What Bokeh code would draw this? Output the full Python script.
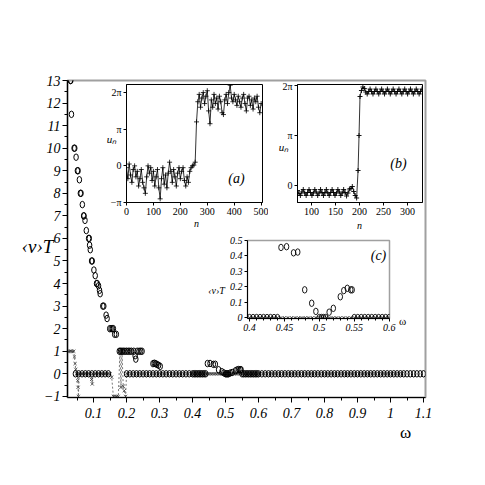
from bokeh.plotting import figure
from bokeh.models import Range1d, FixedTicker, SingleIntervalTicker, Label
from bokeh.embed import file_html
from bokeh.resources import INLINE

SERIF = "Liberation Serif"

# ---------------- main plot data: <v>T versus omega ----------------
# decaying branch of circles
omega_hi = [0.030, 0.031, 0.033, 0.041, 0.043, 0.047, 0.051, 0.053, 0.057, 0.060,
            0.062, 0.066, 0.070, 0.071, 0.074, 0.078, 0.085, 0.087, 0.088, 0.090,
            0.094, 0.096, 0.101, 0.105, 0.109, 0.111, 0.115, 0.118, 0.120, 0.128,
            0.131, 0.138, 0.141, 0.149, 0.153, 0.157, 0.160, 0.164, 0.169, 0.178,
            0.182, 0.186, 0.190, 0.195, 0.200, 0.205, 0.210, 0.215, 0.222, 0.226,
            0.228, 0.232, 0.238, 0.243, 0.247, 0.280, 0.284, 0.288, 0.292, 0.297,
            0.302]
vt_hi = [13.0, 13.0, 11.5, 10.0, 10.0, 9.6, 9.0, 9.0, 8.6, 8.0,
         8.0, 7.5, 7.0, 7.0, 6.8, 6.35, 6.0, 6.0, 5.7, 5.5,
         5.0, 5.0, 4.6, 4.35, 4.0, 4.0, 3.9, 3.7, 3.55, 3.0,
         3.0, 2.6, 2.45, 2.0, 2.0, 2.0, 2.0, 1.75, 1.75, 1.0,
         1.0, 1.0, 1.0, 1.0, 1.0, 1.0, 1.0, 1.0, 1.0, 0.8,
         0.65, 1.0, 1.0, 1.0, 1.0, 0.45, 0.47, 0.45, 0.42, 0.38,
         0.33]

# resonance bump (also shown enlarged in inset (c))
omega_c = [0.445, 0.453, 0.463, 0.469, 0.479, 0.489, 0.495, 0.514, 0.520, 0.530,
           0.535, 0.540, 0.545, 0.547]
vt_c = [0.455, 0.46, 0.42, 0.425, 0.18, 0.093, 0.04, 0.035, 0.06, 0.135,
        0.175, 0.19, 0.18, 0.18]

# circles lying on <v>T = 0
omega_zero = [0.045, 0.055, 0.065, 0.075, 0.085, 0.095, 0.105, 0.115, 0.125, 0.135, 0.145,
              0.20, 0.21, 0.22, 0.23, 0.24, 0.25, 0.26, 0.27, 0.28, 0.29,
              0.30, 0.31, 0.32, 0.33, 0.34, 0.35, 0.36, 0.37, 0.38, 0.39,
              0.400, 0.405, 0.410, 0.415, 0.420, 0.425, 0.430, 0.435, 0.440,
              0.500, 0.503, 0.506, 0.509,
              0.550, 0.555, 0.560, 0.565, 0.570, 0.575, 0.580, 0.585, 0.590, 0.595, 0.600,
              0.61, 0.62, 0.63, 0.64, 0.65, 0.66, 0.67, 0.68, 0.69, 0.70,
              0.71, 0.72, 0.73, 0.74, 0.75, 0.76, 0.77, 0.78, 0.79, 0.80,
              0.81, 0.82, 0.83, 0.84, 0.85, 0.86, 0.87, 0.88, 0.89, 0.90,
              0.91, 0.92, 0.93, 0.94, 0.95, 0.96, 0.97, 0.98, 0.99, 1.00,
              1.01, 1.02, 1.03, 1.04, 1.05, 1.06, 1.07, 1.08, 1.09, 1.10]

# crosses (second series, joined by a dashed line)
omega_x = [0.024, 0.028, 0.032, 0.036, 0.040, 0.042, 0.044, 0.046, 0.048, 0.050,
           0.052, 0.053, 0.054, 0.056, 0.060, 0.065, 0.070, 0.075, 0.080, 0.085,
           0.090, 0.094, 0.096, 0.098, 0.105, 0.110, 0.115, 0.120, 0.125, 0.130,
           0.135, 0.140, 0.145, 0.150, 0.155, 0.160, 0.165, 0.170, 0.175, 0.180,
           0.183, 0.186, 0.190, 0.193, 0.197, 0.200,
           0.205, 0.215, 0.225, 0.235, 0.245, 0.255, 0.265, 0.275, 0.285, 0.295,
           0.305, 0.315, 0.325, 0.335, 0.345, 0.355, 0.365, 0.375, 0.385, 0.395,
           0.400, 0.405, 0.410, 0.415, 0.420, 0.425, 0.430, 0.435, 0.440, 0.445,
           0.450, 0.455, 0.460, 0.465, 0.470, 0.475, 0.480, 0.485, 0.490, 0.495,
           0.500, 0.505, 0.510, 0.515, 0.520, 0.525, 0.530, 0.535, 0.540, 0.545,
           0.550, 0.555, 0.560, 0.565, 0.570, 0.575, 0.580, 0.585, 0.590, 0.595, 0.600,
           0.605, 0.615, 0.625, 0.635, 0.645, 0.655, 0.665, 0.675, 0.685, 0.695,
           0.705, 0.715, 0.725, 0.735, 0.745, 0.755, 0.765, 0.775, 0.785, 0.795,
           0.805, 0.815, 0.825, 0.835, 0.845, 0.855, 0.865, 0.875, 0.885, 0.895,
           0.905, 0.915, 0.925, 0.935, 0.945, 0.955, 0.965, 0.975, 0.985, 0.995,
           1.005, 1.015, 1.025, 1.035, 1.045, 1.055, 1.065, 1.075, 1.085, 1.095]
vt_x = [1, 1, 1, 1, 1, 0.75, 0.45, 0.2, 0, 0,
        -0.3, -0.6, -1, 0, 0, 0, 0, 0, 0, 0,
        0, -0.25, -0.45, 0, 0, 0, 0, 0, 0, 0,
        0, 0, 0, 0, -0.15, -1, -1, -1, -1, 1,
        -0.6, 1, -0.55, -0.75, -1, 0] + [0] * 105

# ---------------- inset (a): u_n (in units of pi) versus n ----------------
n_a = [0, 5, 10, 15, 20, 25, 30, 35, 40, 45, 50, 55, 60, 65, 70, 75, 80, 85, 90, 95,
       100, 105, 110, 115, 120, 125, 130, 135, 140, 145, 150, 155, 160, 165, 170, 175,
       180, 185, 190, 195, 200, 205, 210, 215, 220, 225, 230, 235, 240, 245, 250, 255,
       260, 265, 270, 275, 280, 285, 290, 295, 300, 305, 310, 315, 320, 325, 330, 335,
       340, 345, 350, 355, 360, 365, 370, 375, 380, 385, 390, 395, 400, 405, 410, 415,
       420, 425, 430, 435, 440, 445, 450, 455, 460, 465, 470, 475, 480, 485, 490, 495, 500]
u_a = [-0.05, -0.35, 0.05, -0.25, -0.45, -0.1, 0.0, -0.3, -0.15, -0.55, -0.35, -0.1,
       -0.45, -0.6, -0.75, -0.3, 0.0, -0.2, -0.05, -0.4, -0.15, -0.55, -0.3, -0.1,
       -0.6, -0.9, -0.35, -0.05, -0.5, -0.25, -0.6, -0.2, 0.1, -0.15, -0.45, -0.1,
       -0.3, -0.55, -0.2, -0.05, -0.35, -0.15, -0.05, -0.4, -0.55, -0.3, -0.45, -0.15,
       -0.05, 0.0, 0.02, 0.1, 1.2, 1.75, 1.95, 1.6, 1.85, 2.0, 1.7, 1.9, 2.05, 1.5,
       1.15, 1.8, 1.6, 1.95, 1.7, 1.85, 1.55, 1.9, 1.75, 1.45, 1.4, 1.8, 1.95, 1.7,
       2.0, 2.2, 1.85, 1.75, 1.95, 1.8, 1.65, 1.9, 1.75, 1.6, 1.85, 1.95, 1.7, 1.5,
       1.85, 1.9, 1.65, 1.8, 1.55, 1.85, 1.75, 1.9, 1.6, 1.45, 1.7]

# ---------------- inset (b): u_n (in units of pi) versus n ----------------
n_b = [71, 74, 77, 80, 83, 86, 89, 92, 95, 98, 101, 104, 107, 110, 113, 116, 119, 122,
       125, 128, 131, 134, 137, 140, 143, 146, 149, 152, 155, 158, 161, 164, 167, 170,
       173, 176, 179, 182, 185, 188, 191, 194, 197, 199, 201,
       204, 207, 210, 213, 216, 219, 222, 225, 228, 231, 234, 237, 240, 243, 246, 249,
       252, 255, 258, 261, 264, 267, 270, 273, 276, 279, 282, 285, 288, 291, 294, 297,
       300, 303, 306, 309, 312, 315, 318, 321, 324, 327, 330]
u_b = [-0.10, -0.16, -0.20, -0.13, -0.08, -0.15, -0.20, -0.14, -0.08, -0.14, -0.20,
       -0.15, -0.08, -0.13, -0.20, -0.15, -0.08, -0.14, -0.20, -0.14, -0.08, -0.15,
       -0.20, -0.14, -0.08, -0.14, -0.20, -0.15, -0.08, -0.13, -0.20, -0.15, -0.08,
       -0.14, -0.21, -0.15, -0.07, -0.06, -0.02, -0.12, -0.20, -0.25, 0.3, 1.0, 1.78,
       1.90, 1.97, 1.94, 1.87, 1.83, 1.88, 1.93, 1.88, 1.83, 1.88, 1.93, 1.88, 1.83,
       1.88, 1.93, 1.88, 1.83, 1.88, 1.93, 1.88, 1.83, 1.88, 1.93, 1.88, 1.83, 1.88,
       1.93, 1.88, 1.83, 1.88, 1.93, 1.88, 1.83, 1.88, 1.93, 1.88, 1.83, 1.88, 1.93,
       1.88, 1.83, 1.88, 1.93]

pi_ticks = [-1, 0, 1, 2]
pi_labels = {-1: "\u2212\u03c0", 0: "0", 1: "\u03c0", 2: "2\u03c0"}
a_xticks = [0, 100, 200, 300, 400, 500]
b_xticks = [100, 150, 200, 250, 300]
c_xticks = [0.40, 0.45, 0.50, 0.55, 0.60]
c_xminor = [0.41, 0.42, 0.43, 0.44, 0.46, 0.47, 0.48, 0.49,
            0.51, 0.52, 0.53, 0.54, 0.56, 0.57, 0.58, 0.59]
c_yticks = [0.0, 0.1, 0.2, 0.3, 0.4, 0.5]

# axis titles that sit outside the plot frames
title_text = ["\u2039v\u203aT", "\u03c9", "u\u2099", "n", "u\u2099", "n",
              "\u2039v\u203aT", "\u03c9"]
title_size = ["19px", "17px", "11px", "10px", "11px", "10px", "10px", "11px"]
title_style = ["italic", "normal", "italic", "italic", "italic", "italic",
               "italic", "normal"]


def base(w, h, xr, yr, left, top, lb, rb, tb, bb):
    p = figure(width=w, height=h, x_range=Range1d(*xr), y_range=Range1d(*yr),
               output_backend="svg", toolbar_location=None,
               min_border_left=lb, min_border_right=rb, min_border_top=tb,
               min_border_bottom=bb,
               styles={"position": "absolute", "left": f"{left}px", "top": f"{top}px"})
    p.grid.visible = False
    for ax in (p.xaxis[0], p.yaxis[0]):
        ax.axis_line_color = "black"
        ax.major_tick_line_color = "black"
        ax.minor_tick_line_color = "black"
        ax.major_label_text_font = SERIF
        ax.major_label_text_color = "black"
    return p


def lab(p, x, y, text, size, style="normal", units="screen"):
    p.add_layout(Label(x=x, y=y, x_units=units, y_units=units,
                       text=text, text_align="center", text_baseline="middle",
                       text_font=SERIF, text_font_style=style,
                       text_font_size=size, text_color="black"))


# ---------------- main figure ----------------
W = H = 469
p = base(W, H, (0.021, 1.106), (-1.05, 13.0), 8, 8, 59, 52, 72, 80)
p.outline_line_color = "#a0a0a0"
p.outline_line_width = 2
p.xaxis.ticker = SingleIntervalTicker(interval=0.1, num_minor_ticks=2)
p.yaxis.ticker = SingleIntervalTicker(interval=1, num_minor_ticks=2)
for ax in (p.xaxis[0], p.yaxis[0]):
    ax.major_label_text_font_style = "italic"
    ax.major_label_text_font_size = "14px"
    ax.major_tick_out = 5
    ax.major_tick_in = 0
    ax.minor_tick_out = 3
    ax.minor_tick_in = 0
    ax.axis_line_width = 1.2
p.xaxis.major_label_standoff = 5
p.yaxis.major_label_standoff = 2

p.line(omega_x, vt_x, line_color="#555555", line_width=0.8, line_dash="2 2")
p.scatter(omega_x, vt_x, marker="x", size=4.5, line_color="#333333", line_width=0.8)
all_w = omega_hi + omega_c + omega_zero
all_v = vt_hi + vt_c + [0.0] * len(omega_zero)
p.ellipse(all_w, all_v, width=4.5, height=6.5, width_units="screen",
          height_units="screen", fill_color=None, line_color="black", line_width=1.0)

# ---------------- inset (a) ----------------
pa = base(172, 150, (0, 505), (-1.0, 2.22), 96, 80, 30, 6, 4, 28)
pa.outline_line_color = "black"
pa.outline_line_width = 1
pa.border_fill_color = None
pa.xaxis.ticker = FixedTicker(ticks=a_xticks)
pa.yaxis.ticker = FixedTicker(ticks=pi_ticks)
pa.yaxis.major_label_overrides = pi_labels
for ax in (pa.xaxis[0], pa.yaxis[0]):
    ax.major_label_text_font_size = "10px"
    ax.major_tick_out = 3
    ax.major_tick_in = 0
    ax.minor_tick_out = 0
    ax.minor_tick_in = 0
    ax.major_label_standoff = 2
pa.line(n_a, u_a, line_color="black", line_width=0.8)
pa.scatter(n_a, u_a, marker="cross", size=5, line_color="black", line_width=0.8)
lab(pa, 110, 24, "(a)", "14px", "italic")

# ---------------- inset (b) ----------------
pb = base(162, 150, (71, 331), (-0.34, 2.02), 268, 80, 29, 8, 4, 28)
pb.outline_line_color = "black"
pb.outline_line_width = 1
pb.border_fill_color = None
pb.xaxis.ticker = FixedTicker(ticks=b_xticks)
pb.yaxis.ticker = FixedTicker(ticks=pi_ticks)
pb.yaxis.major_label_overrides = pi_labels
for ax in (pb.xaxis[0], pb.yaxis[0]):
    ax.major_label_text_font_size = "10px"
    ax.major_tick_out = 3
    ax.major_tick_in = 0
    ax.minor_tick_out = 0
    ax.minor_tick_in = 0
    ax.major_label_standoff = 2
pb.line(n_b, u_b, line_color="black", line_width=0.8)
pb.scatter(n_b, u_b, marker="cross", size=5, line_color="black", line_width=0.9)
lab(pb, 101, 39, "(b)", "14px", "italic")

# ---------------- inset (c) ----------------
pc = base(222, 112, (0.397, 0.6005), (-0.006, 0.5), 196, 232, 51, 29, 8, 26)
pc.outline_line_color = "#a0a0a0"
pc.outline_line_width = 1.5
pc.border_fill_color = None
pc.xaxis.ticker = FixedTicker(ticks=c_xticks, minor_ticks=c_xminor)
pc.yaxis.ticker = FixedTicker(ticks=c_yticks)
for ax in (pc.xaxis[0], pc.yaxis[0]):
    ax.major_label_text_font_size = "10px"
    ax.major_label_text_font_style = "italic"
    ax.major_tick_out = 3
    ax.major_tick_in = 0
    ax.minor_tick_out = 2
    ax.minor_tick_in = 0
    ax.major_label_standoff = 2
pc.line(omega_x, vt_x, line_color="#555555", line_width=0.8, line_dash="2 2")
pc.scatter(omega_x, vt_x, marker="x", size=4, line_color="#333333", line_width=0.8)
pc.ellipse(all_w, all_v, width=4.5, height=6.5, width_units="screen",
           height_units="screen", fill_color=None, line_color="black", line_width=0.9)
lab(pc, 131, 63, "(c)", "14px", "italic")

# ---------------- transparent overlay carrying the outside axis titles ----------------
# its frame covers the whole page area; ranges are page pixels (y downwards)
ov = figure(width=469, height=469, x_range=Range1d(8, 477), y_range=Range1d(477, 8),
            output_backend="svg", toolbar_location=None,
            x_axis_type=None, y_axis_type=None,
            min_border_left=0, min_border_right=0, min_border_top=0, min_border_bottom=0,
            background_fill_color=None, border_fill_color=None, outline_line_color=None,
            styles={"position": "absolute", "left": "8px", "top": "8px"})
ov.grid.visible = False
title_x = [37, 405, 111, 196, 283, 359, 216, 402]
title_y = [246, 432, 138, 223, 146, 225, 290, 320]
for tx, ty, tt, ts, st in zip(title_x, title_y, title_text, title_size, title_style):
    lab(ov, tx, ty, tt, ts, st, units="data")

open("out.html", "w").write(file_html([p, pa, pb, pc, ov], INLINE))
